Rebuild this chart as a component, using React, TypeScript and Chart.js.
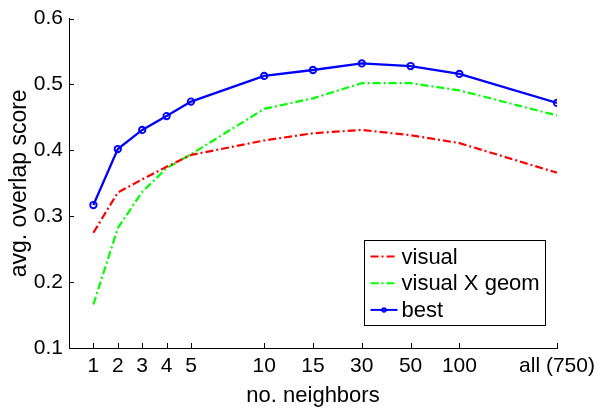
import React, { useEffect, useRef } from 'react';
import { Chart, registerables } from 'chart.js';

Chart.register(...registerables);

const categories = ['1', '2', '3', '4', '5', '10', '15', '30', '50', '100', 'all (750)'];
const slots = [0, 1, 2, 3, 4, 7, 9, 11, 13, 15, 19];
const visual = [0.275, 0.336, 0.356, 0.375, 0.393, 0.415, 0.426, 0.431, 0.423, 0.411, 0.366];
const visualGeom = [0.166, 0.282, 0.337, 0.373, 0.394, 0.463, 0.479, 0.502, 0.502, 0.491, 0.453];
const best = [0.317, 0.402, 0.431, 0.452, 0.474, 0.513, 0.522, 0.532, 0.528, 0.516, 0.472];
const yTicks = [0.1, 0.2, 0.3, 0.4, 0.5, 0.6];
const seriesNames = ['visual', 'visual X geom', 'best'];

const FONT = '"Liberation Sans", Arial, Helvetica, sans-serif';
const FS_TICK = 21;
const FS_TITLE = 22;
const FS_YTITLE = 23;
const FS_LEGEND = 22;

const decor = {
  id: 'decor',
  afterDraw(chart: any) {
    const { ctx, chartArea, scales } = chart;
    const x = scales.x;
    const y = scales.y;
    ctx.save();
    ctx.strokeStyle = '#000';
    ctx.lineWidth = 1;
    ctx.beginPath();
    slots.forEach((s) => {
      const px = Math.round(x.getPixelForValue(s)) + 0.5;
      ctx.moveTo(px, chartArea.bottom);
      ctx.lineTo(px, chartArea.bottom - 5);
    });
    yTicks.forEach((v) => {
      const py = Math.round(y.getPixelForValue(v)) + 0.5;
      ctx.moveTo(chartArea.left, py);
      ctx.lineTo(chartArea.left + 5, py);
    });
    ctx.stroke();

    // legend box
    const bx = chartArea.right - 192.5;
    const by = chartArea.bottom - 107.5;
    const bw = 181;
    const bh = 85;
    ctx.fillStyle = '#fff';
    ctx.fillRect(bx, by, bw, bh);
    ctx.strokeStyle = '#000';
    ctx.lineWidth = 1;
    ctx.strokeRect(bx, by, bw, bh);
    chart.data.datasets.forEach((ds: any, i: number) => {
      const rowY = by + 16 + i * 26.7;
      const x0 = bx + 6;
      const x1 = bx + 33;
      ctx.save();
      ctx.strokeStyle = ds.borderColor;
      ctx.lineWidth = 2;
      ctx.setLineDash(ds.borderDash || []);
      ctx.beginPath();
      ctx.moveTo(x0, rowY);
      ctx.lineTo(x1, rowY);
      ctx.stroke();
      ctx.setLineDash([]);
      if (ds.pointRadius > 0) {
        ctx.beginPath();
        ctx.arc((x0 + x1) / 2, rowY, 2, 0, Math.PI * 2);
        ctx.lineWidth = 1.5;
        ctx.stroke();
      }
      ctx.restore();
      ctx.fillStyle = '#000';
      ctx.font = `${FS_LEGEND}px ${FONT}`;
      ctx.textBaseline = 'middle';
      ctx.textAlign = 'left';
      ctx.fillText(ds.label, bx + 37, rowY + 1);
    });
    ctx.restore();
  },
};

export default function App() {
  const ref = useRef<HTMLCanvasElement | null>(null);
  useEffect(() => {
    if (!ref.current) return;
    const mk = (vals: number[]) => vals.map((v, i) => ({ x: slots[i], y: v }));
    const chart = new Chart(ref.current, {
      type: 'line',
      data: {
        datasets: [
          {
            label: seriesNames[0],
            data: mk(visual),
            borderColor: '#ff0000',
            borderWidth: 2.2,
            borderDash: [8, 3, 2, 3],
            pointRadius: 0,
            fill: false,
            tension: 0,
          },
          {
            label: seriesNames[1],
            data: mk(visualGeom),
            borderColor: '#00ff00',
            borderWidth: 2.2,
            borderDash: [8, 3, 2, 3],
            pointRadius: 0,
            fill: false,
            tension: 0,
          },
          {
            label: seriesNames[2],
            data: mk(best),
            borderColor: '#0000ff',
            borderWidth: 2.3,
            pointRadius: 3.2,
            pointBorderWidth: 1.9,
            pointBackgroundColor: 'rgba(0,0,0,0)',
            pointBorderColor: '#0000ff',
            fill: false,
            tension: 0,
          },
        ],
      },
      options: {
        animation: false,
        responsive: false,
        events: [],
        layout: { padding: { left: 0, right: 47, top: 17, bottom: 0 } },
        plugins: { legend: { display: false }, tooltip: { enabled: false } },
        scales: {
          x: {
            type: 'linear',
            min: -1,
            max: 19,
            afterBuildTicks: (scale: any) => {
              scale.ticks = slots.map((s) => ({ value: s }));
            },
            afterFit: (scale: any) => {
              scale.height = 60;
            },
            grid: { display: false, drawTicks: false },
            border: { display: true, color: '#000', width: 1 },
            ticks: {
              autoSkip: false,
              maxRotation: 0,
              padding: 6,
              color: '#000',
              font: { family: FONT, size: FS_TICK },
              callback: (v: any) => {
                const i = slots.indexOf(Number(v));
                return i >= 0 ? categories[i] : '';
              },
            },
            title: {
              display: true,
              text: 'no. neighbors',
              color: '#000',
              font: { family: FONT, size: FS_TITLE, lineHeight: 1 },
              padding: { top: 0, bottom: 1 },
            },
          },
          y: {
            type: 'linear',
            min: 0.1,
            max: 0.6,
            afterBuildTicks: (scale: any) => {
              scale.ticks = yTicks.map((v) => ({ value: v }));
            },
            afterFit: (scale: any) => {
              scale.width = 69;
            },
            grid: { display: false, drawTicks: false },
            border: { display: true, color: '#000', width: 1 },
            ticks: {
              padding: 6,
              color: '#000',
              font: { family: FONT, size: FS_TICK },
              callback: (v: any) => Number(v).toFixed(1),
            },
            title: {
              display: true,
              text: 'avg. overlap score',
              color: '#000',
              font: { family: FONT, size: FS_YTITLE, lineHeight: 1 },
              padding: { top: 8, bottom: 0 },
            },
          },
        },
      },
      plugins: [decor],
    } as any);
    return () => chart.destroy();
  }, []);
  return (
    <div style={{ position: 'absolute', left: 0, top: 0, width: 604, height: 408, background: '#fff' }}>
      <canvas ref={ref} width={604} height={408} />
    </div>
  );
}
